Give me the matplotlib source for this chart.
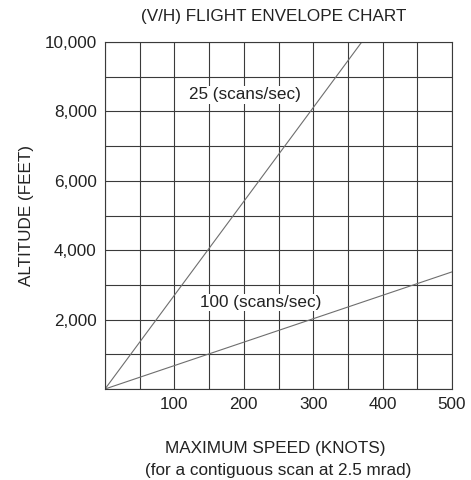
import numpy as np
import matplotlib
matplotlib.use("Agg")
import matplotlib.pyplot as plt

plt.rcParams['font.family'] = ['Liberation Sans', 'DejaVu Sans']

# speed (knots) vs altitude (feet) endpoints for each scan rate
speed_25 = [0, 370]
alt_25 = [0, 10000]
speed_100 = [0, 500]
alt_100 = [0, 3375]

x_ticks = [100, 200, 300, 400, 500]
y_ticks = [2000, 4000, 6000, 8000, 10000]
y_labels = ['2,000', '4,000', '6,000', '8,000', '10,000']

fs = 12.3
txt = '#222222'

fig = plt.figure(figsize=(4.71, 4.80), dpi=100)
ax = fig.add_axes([105/471, 1 - 389/480, 347/471, 347/480])

ax.set_xlim(0, 500)
ax.set_ylim(0, 10000)

# grid every 50 knots / 1000 ft
ax.set_xticks(np.arange(0, 501, 50), minor=True)
ax.set_yticks(np.arange(0, 10001, 1000), minor=True)
ax.set_xticks(x_ticks)
ax.set_yticks(y_ticks)
ax.set_yticklabels(y_labels)
ax.grid(which='both', color='#3a3a3a', lw=0.8)
ax.tick_params(which='both', length=0, labelsize=fs, colors=txt, pad=6)
for s in ax.spines.values():
    s.set_color('#3a3a3a')
    s.set_linewidth(0.8)

ax.plot(speed_25, alt_25, color='#6e6e6e', lw=0.8)
ax.plot(speed_100, alt_100, color='#6e6e6e', lw=0.8)

ax.text(202, 8480, '25 (scans/sec)', ha='center', va='center', fontsize=fs,
        color=txt, bbox=dict(fc='white', ec='none', pad=1))
ax.text(224, 2490, '100 (scans/sec)', ha='center', va='center', fontsize=fs,
        color=txt, bbox=dict(fc='white', ec='none', pad=1))

fig.text(274/471, 1 - 16/480, '(V/H) FLIGHT ENVELOPE CHART', ha='center', va='center',
         fontsize=fs, color=txt)
fig.text(26/471, 1 - 215/480, 'ALTITUDE (FEET)', rotation=90, ha='center', va='center',
         fontsize=fs, color=txt)
fig.text(275/471, 1 - 448/480, 'MAXIMUM SPEED (KNOTS)', ha='center', va='center',
         fontsize=fs, color=txt)
fig.text(278/471, 1 - 470/480, '(for a contiguous scan at 2.5 mrad)', ha='center', va='center',
         fontsize=fs, color=txt)

fig.savefig('out.png', dpi=100)
